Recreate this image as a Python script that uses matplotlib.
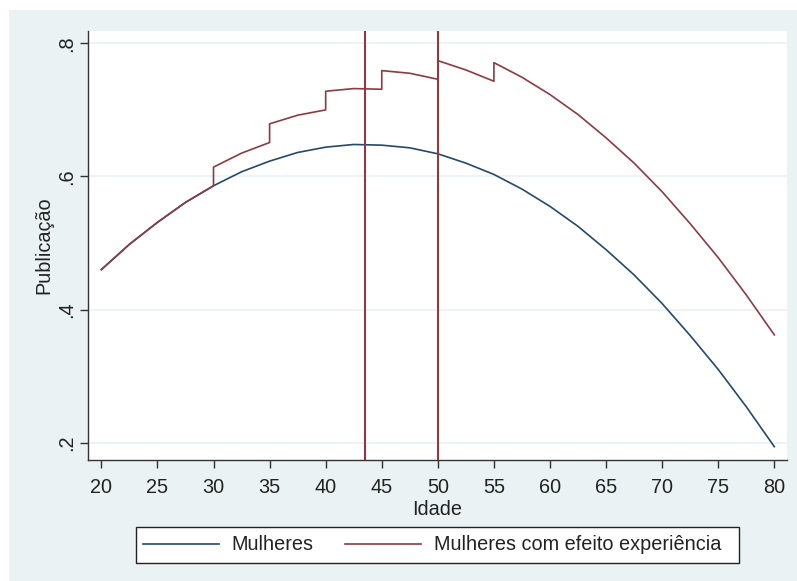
import matplotlib

matplotlib.use("Agg")
import matplotlib.pyplot as plt
from matplotlib.patches import Rectangle

plt.rcParams["font.family"] = ["Liberation Sans", "DejaVu Sans"]

# predicted publication rate by age
AGE = [20, 22.5, 25, 27.5, 30, 32.5, 35, 37.5, 40, 42.5, 45, 47.5, 50,
       52.5, 55, 57.5, 60, 62.5, 65, 67.5, 70, 72.5, 75, 77.5, 80]
MULHERES = [.460, .498, .531, .561, .586, .607, .623, .636, .644, .648, .647,
            .643, .634, .620, .603, .581, .555, .525, .490, .452, .409, .361,
            .310, .254, .194]

# same curve with the experience step every 5 years (repeated ages = jumps)
AGE_EXP = [20, 22.5, 25, 27.5, 30, 30, 32.5, 35, 35, 37.5, 40, 40, 42.5, 45,
           45, 47.5, 50, 50, 52.5, 55, 55, 57.5, 60, 62.5, 65, 67.5, 70, 72.5,
           75, 77.5, 80]
MULHERES_EXP = [.460, .498, .531, .561, .586, .614, .635, .651, .679, .692,
                .700, .728, .732, .731, .759, .755, .746, .774, .760, .743,
                .771, .749, .723, .693, .658, .620, .577, .529, .478, .422,
                .362]

MARKERS = [43.5, 50.0]
XTICKS = list(range(20, 81, 5))
YTICKS = [.2, .4, .6, .8]
YTICK_LABELS = [".2", ".4", ".6", ".8"]

NAVY = "#24496b"
MAROON = "#8e3a40"
BG = "#eaf2f3"
NARROW = ["Liberation Sans Narrow", "Liberation Sans", "DejaVu Sans"]

W, H = 797, 581
fig = plt.figure(figsize=(W / 100, H / 100), dpi=100)
fig.patch.set_facecolor("white")
fig.patches.append(Rectangle((9 / W, 0), 1 - 9 / W, 1 - 10 / H,
                             transform=fig.transFigure, facecolor=BG,
                             edgecolor="none", zorder=-10))

ax = fig.add_axes([88 / W, 1 - 460 / H, (787 - 88) / W, (460 - 31) / H])
ax.set_facecolor("white")

ax.plot(AGE, MULHERES, color=NAVY, lw=1.2, label="Mulheres", zorder=3)
ax.plot(AGE_EXP, MULHERES_EXP, color=MAROON, lw=1.2,
        label="Mulheres com efeito experiência", zorder=3)
for xv in MARKERS:
    ax.axvline(xv, color=MAROON, lw=1.5, zorder=4)

ax.set_xlim(18.81, 81.13)
ax.set_ylim(.174, .8185)
ax.set_xticks(XTICKS)
ax.set_yticks(YTICKS, YTICK_LABELS)
ax.grid(True, axis="y", color=BG, lw=1.2, zorder=1)
ax.grid(False, axis="x")

for s in ("top", "right"):
    ax.spines[s].set_visible(False)
for s in ("left", "bottom"):
    ax.spines[s].set_color("#333333")
    ax.spines[s].set_linewidth(1.0)

ax.tick_params(axis="x", length=6, width=1, color="#333333", pad=7,
               labelsize=14.3, labelcolor="#222222")
ax.tick_params(axis="y", length=6, width=1, color="#333333", pad=2.5,
               labelsize=14.3, labelcolor="#222222")
for lab in ax.get_yticklabels():
    lab.set_rotation(90)
    lab.set_va("center")
    lab.set_family(NARROW)

ax.set_xlabel("Idade", fontsize=14.3, color="#222222", labelpad=2)
ax.set_ylabel("Publicação", fontsize=14.3, color="#222222", labelpad=3,
              family=NARROW)

# legend frame spans a fixed box under the axis
fig.patches.append(Rectangle((136 / W, 1 - 563 / H), (739 - 136) / W, 36 / H,
                             transform=fig.transFigure, facecolor="white",
                             edgecolor="#222222", lw=1.0, zorder=1))
fig.legend(loc="center left", bbox_to_anchor=(143 / W, 1 - 545 / H), ncol=2,
           frameon=False, fontsize=14.3, borderpad=0, borderaxespad=0,
           handlelength=3.82, handletextpad=0.65, columnspacing=1.56,
           labelcolor="#222222")

fig.savefig("out.png", dpi=100)
